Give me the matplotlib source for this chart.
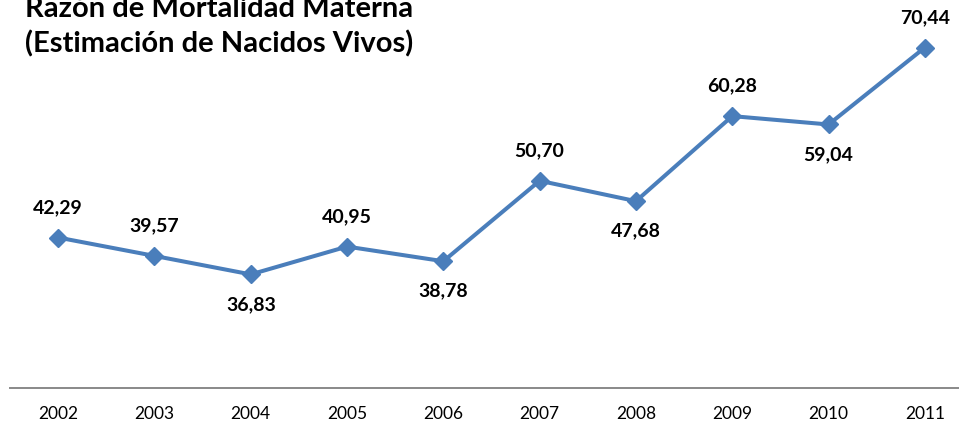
import matplotlib.pyplot as plt

# data
years = ['2002', '2003', '2004', '2005', '2006', '2007', '2008', '2009', '2010', '2011']
razon = [42.29, 39.57, 36.83, 40.95, 38.78, 50.70, 47.68, 60.28, 59.04, 70.44]
label_pos = ['above', 'above', 'below', 'above', 'below', 'above', 'below', 'above', 'below', 'above']

plt.rcParams['font.family'] = ['Lato', 'DejaVu Sans']

fig = plt.figure(figsize=(9.59, 4.24), dpi=100)
# plot area runs a bit past the figure edges, like the cropped original
ax = fig.add_axes([10 / 959, 36 / 424, 963 / 959, 405 / 424])

x = list(range(len(years)))
ax.plot(x, razon, color='#4A7EBB', linewidth=2.9, marker='D', markersize=9,
        markerfacecolor='#4A7EBB', markeredgecolor='#4A7EBB')

for xi, v, pos in zip(x, razon, label_pos):
    off = 21.6 if pos == 'above' else -21.6
    ax.annotate(f'{v:.2f}'.replace('.', ','), (xi, v), xytext=(0, off),
                textcoords='offset points', ha='center', va='center',
                fontsize=14, fontweight='bold', color='black')

ax.set_xlim(-0.5, len(years) - 0.5)
ax.set_ylim(20, 80)
ax.set_xticks(x)
ax.set_xticklabels(years, fontsize=12.5)
ax.tick_params(axis='x', length=0, pad=13)
ax.set_yticks([])
for s in ['top', 'right', 'left']:
    ax.spines[s].set_visible(False)
ax.spines['bottom'].set_color('#898989')
ax.spines['bottom'].set_linewidth(1.4)

fig.text(25 / 959, 1 - 17 / 424, 'Razón de Mortalidad Materna', fontsize=21,
         fontweight='bold', ha='left', va='baseline')
fig.text(25 / 959, 1 - 52 / 424, '(Estimación de Nacidos Vivos)', fontsize=21,
         fontweight='bold', ha='left', va='baseline')

fig.savefig('out.png', dpi=100)
